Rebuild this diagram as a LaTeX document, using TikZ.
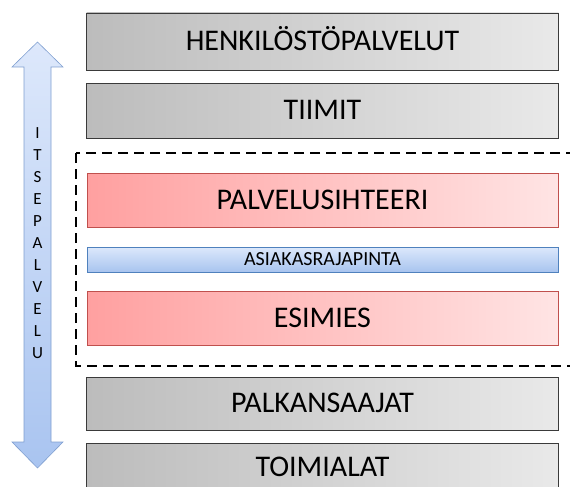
\documentclass[tikz,border=0pt]{standalone}
\usepackage{fontspec}
\setmainfont{Carlito}
\definecolor{grayL}{HTML}{BCBCBC}
\definecolor{grayR}{HTML}{E9E9E9}
\definecolor{grayB}{HTML}{3A3A3A}
\definecolor{redL}{HTML}{FFA0A0}
\definecolor{redR}{HTML}{FFE4E4}
\definecolor{redB}{HTML}{C0504D}
\definecolor{blueT}{HTML}{DCE8FB}
\definecolor{blueBt}{HTML}{A8C4EF}
\definecolor{blueB}{HTML}{4F81BD}
\definecolor{arrT}{HTML}{DDE8FB}
\definecolor{arrBt}{HTML}{A9C4F0}
\definecolor{arrB}{HTML}{7F9FD0}
\tikzset{
  box/.style={rectangle, minimum width=472pt, inner sep=0pt, text depth=0pt},
  graybox/.style={box, draw=grayB, line width=0.9pt, left color=grayL, right color=grayR,
     font=\fontsize{30}{31}\selectfont, text height=18.9pt},
  redbox/.style={box, draw=redB, line width=0.8pt, left color=redL, right color=redR,
     font=\fontsize{30}{31}\selectfont, text height=18.9pt},
  bluebox/.style={box, draw=blueB, line width=0.8pt, top color=blueT, bottom color=blueBt,
     font=\fontsize{20}{21}\selectfont, text height=12.6pt},
  sideletter/.style={inner sep=0pt, font=\fontsize{17}{18}\selectfont, text height=10.7pt, text depth=0pt},
  dashbox/.style={draw=black, line width=1.3pt, dash pattern=on 10pt off 6pt}
}
\begin{document}
\begin{tikzpicture}[x=1pt,y=-1pt]
\useasboundingbox (0,0) rectangle (570,487);
\clip (0,0) rectangle (570,487);
% double arrow
\draw[arrB, line width=0.6pt, top color=arrT, bottom color=arrBt]
  (37.5,42) -- (63,67) -- (51,67) -- (51,442) -- (63,442) -- (37.5,468)
  -- (12,442) -- (24,442) -- (24,67) -- (12,67) -- cycle;
\foreach \ch [count=\i] in {I,T,S,E,P,A,L,V,E,L,U} {
  \node[sideletter] (s\i) at (37.5,{133+22*(\i-1)}) {\ch};
}
% dashed region
\coordinate (dTL) at (76,153);
\coordinate (dBR) at (585,366);
\draw[dashbox] (dTL) rectangle (dBR);
% boxes
\node[graybox, minimum height=57pt] (hp) at (322.5,41.5) {HENKILÖSTÖPALVELUT};
\node[graybox, minimum height=55pt] (ti) at (322.5,110.5) {TIIMIT};
\node[redbox, minimum height=54pt, minimum width=471pt] (ps) at (322.5,200) {PALVELUSIHTEERI};
\node[bluebox, minimum height=25pt, minimum width=471pt] (ar) at (322.5,259.5) {ASIAKASRAJAPINTA};
\node[redbox, minimum height=54pt, minimum width=471pt] (es) at (322.5,318) {ESIMIES};
\node[graybox, minimum height=53pt] (pk) at (322.5,403.5) {PALKANSAAJAT};
\node[graybox, minimum height=48pt] (to) at (322.5,467) {TOIMIALAT};
\end{tikzpicture}
\end{document}
